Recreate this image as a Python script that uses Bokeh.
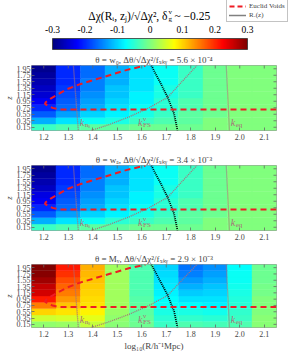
import numpy as np
from bokeh.plotting import figure
from bokeh.layouts import column, row
from bokeh.models import (Range1d, FixedTicker, Label, Legend, LegendItem,
                          LinearColorMapper, ColumnDataSource)
from bokeh.transform import linear_cmap
from bokeh.core.properties import value
from bokeh.embed import file_html
from bokeh.resources import INLINE

# ---------------- data ----------------
R_centers = [1.2, 1.3, 1.4, 1.5, 1.6, 1.7, 1.8, 1.9, 2.0, 2.1]
z_centers = [0.15, 0.35, 0.55, 0.75, 0.95, 1.15, 1.35, 1.55, 1.75, 1.95]
x_tick_labels = ["1.2", "1.3", "1.4", "1.5", "1.6", "1.7", "1.8", "1.9", "2.0", "2.1"]
y_tick_labels = ["0.15", "0.35", "0.55", "0.75", "0.95", "1.15", "1.35", "1.55", "1.75", "1.95"]
cbar_ticks = [-0.3, -0.2, -0.1, 0.0, 0.1, 0.2, 0.3]
cbar_tick_labels = ["-0.3", "-0.2", "-0.1", "0", "0.1", "0.2", "0.3"]

# rows: z ascending (0.15 ... 1.95); columns: R_centers
values_w0 = [
    [-0.04, -0.03, -0.02, -0.02, -0.01, -0.01, -0.01, 0.00, 0.00, 0.00],
    [-0.12, -0.09, -0.07, -0.06, -0.04, -0.03, -0.02, 0.00, 0.00, 0.00],
    [-0.17, -0.13, -0.10, -0.08, -0.06, -0.04, -0.02, -0.01, 0.00, 0.00],
    [-0.20, -0.16, -0.12, -0.09, -0.07, -0.05, -0.03, -0.01, 0.00, 0.00],
    [-0.23, -0.17, -0.13, -0.10, -0.08, -0.05, -0.03, -0.01, 0.00, 0.00],
    [-0.25, -0.18, -0.14, -0.11, -0.08, -0.06, -0.04, -0.01, 0.00, 0.00],
    [-0.26, -0.19, -0.15, -0.11, -0.09, -0.06, -0.04, -0.01, 0.00, 0.00],
    [-0.27, -0.20, -0.15, -0.12, -0.09, -0.07, -0.04, -0.01, 0.00, 0.00],
    [-0.28, -0.20, -0.16, -0.12, -0.09, -0.07, -0.04, -0.01, 0.00, 0.00],
    [-0.29, -0.20, -0.16, -0.12, -0.09, -0.07, -0.04, -0.01, 0.00, 0.00],
]
values_wa = [
    [-0.04, -0.03, -0.02, -0.02, -0.01, -0.01, -0.01, 0.00, 0.00, 0.00],
    [-0.12, -0.09, -0.07, -0.05, -0.04, -0.03, -0.02, 0.00, 0.00, 0.00],
    [-0.17, -0.13, -0.10, -0.08, -0.06, -0.04, -0.02, -0.01, 0.00, 0.00],
    [-0.20, -0.16, -0.12, -0.09, -0.07, -0.05, -0.03, -0.01, 0.00, 0.00],
    [-0.23, -0.17, -0.13, -0.10, -0.08, -0.05, -0.03, -0.01, 0.00, 0.00],
    [-0.24, -0.18, -0.14, -0.11, -0.08, -0.06, -0.04, -0.01, 0.00, 0.00],
    [-0.26, -0.19, -0.15, -0.11, -0.09, -0.06, -0.04, -0.01, 0.00, 0.00],
    [-0.27, -0.20, -0.15, -0.12, -0.09, -0.07, -0.04, -0.01, 0.00, 0.00],
    [-0.28, -0.20, -0.16, -0.12, -0.09, -0.07, -0.04, -0.01, 0.00, 0.00],
    [-0.29, -0.20, -0.16, -0.12, -0.09, -0.07, -0.04, -0.01, 0.00, 0.00],
]
values_mnu = [
    [0.010, 0.015, 0.040, 0.005, -0.010, -0.040, -0.030, -0.035, -0.030, 0.005],
    [0.045, 0.050, 0.060, 0.010, -0.015, -0.050, -0.045, -0.050, -0.040, 0.005],
    [0.100, 0.090, 0.080, 0.015, -0.020, -0.060, -0.060, -0.065, -0.045, 0.000],
    [0.150, 0.110, 0.090, 0.020, -0.020, -0.070, -0.075, -0.080, -0.050, 0.000],
    [0.210, 0.135, 0.095, 0.020, -0.025, -0.075, -0.090, -0.090, -0.055, 0.000],
    [0.250, 0.150, 0.100, 0.020, -0.030, -0.080, -0.105, -0.100, -0.060, -0.005],
    [0.260, 0.165, 0.105, 0.020, -0.030, -0.085, -0.120, -0.110, -0.065, -0.005],
    [0.280, 0.180, 0.110, 0.020, -0.030, -0.090, -0.135, -0.120, -0.070, -0.010],
    [0.295, 0.195, 0.115, 0.020, -0.030, -0.095, -0.150, -0.130, -0.070, -0.010],
    [0.300, 0.210, 0.120, 0.020, -0.030, -0.100, -0.157, -0.140, -0.075, -0.010],
]
panel_titles = ["θ = w₀, Δθ/√Δχ²/fₛₖᵧ = 5.6 × 10⁻⁴",
                "θ = wₐ, Δθ/√Δχ²/fₛₖᵧ = 3.4 × 10⁻³",
                "θ = Mᵥ, Δθ/√Δχ²/fₛₖᵧ = 2.9 × 10⁻³"]

# overlay curves (R = log10 radius, z = redshift)
euclid_R = [2.15, 1.261, 1.236, 1.216, 1.205, 1.208, 1.23, 1.255, 1.295, 1.348, 1.414, 1.48, 1.547, 1.606, 1.615]
euclid_z = [0.70, 0.70, 0.747, 0.817, 0.87, 0.92, 1.04, 1.15, 1.32, 1.475, 1.626, 1.777, 1.93, 2.03, 2.05]
rnu_R = [1.639, 1.672, 1.706, 1.732, 1.746]
rnu_z = [2.05, 1.575, 1.07, 0.565, 0.05]
kns_R = [1.321, 1.341]
kns_z = [2.05, 0.05]
kfs_R = [1.394, 1.47, 1.547, 1.63, 1.706, 1.765, 1.825]
kfs_z = [0.05, 0.24, 0.465, 0.75, 1.07, 1.56, 2.05]
keq_R = [1.945, 1.958]
keq_z = [2.05, 0.05]

# ---------------- style ----------------
W = 299
BL, BR = 25, 23          # left / right borders of the panel figures
SERIF = "Liberation Serif"
KCOL = "#a8707a"
RED = "#ee1c24"
TICK = "#666666"
NAN = float("nan")


def jet_hex(t):
    r = min(max(1.5 - abs(4 * t - 3), 0), 1)
    g = min(max(1.5 - abs(4 * t - 2), 0), 1)
    b = min(max(1.5 - abs(4 * t - 1), 0), 1)
    return "#%02x%02x%02x" % (int(r * 255), int(g * 255), int(b * 255))


JET = [jet_hex(i / 255) for i in range(256)]
mapper = LinearColorMapper(palette=JET, low=cbar_ticks[0], high=cbar_ticks[-1])

# ---------------- header: colour bar, title, legend (frame = whole canvas) ----------------
HDR_H = 51
PX = 325.0                            # pixels per colour-bar unit
BAR_X0, BAR_TOP, BAR_H = 52, 38, 11   # bar left, bar top, bar height (px)
hx0 = cbar_ticks[0] - BAR_X0 / PX
hdr_x = Range1d(hx0, hx0 + W / PX)
hdr_y = Range1d(-(HDR_H - BAR_TOP - BAR_H) / BAR_H, 1 + BAR_TOP / BAR_H)
hdr = figure(width=W, height=HDR_H, x_range=hdr_x, y_range=hdr_y, output_backend="svg",
             toolbar_location=None, x_axis_type=None, y_axis_type=None,
             min_border_left=0, min_border_right=0, min_border_top=0, min_border_bottom=0)
hdr.grid.visible = False
hdr.outline_line_color = None
grad = np.linspace(cbar_ticks[0], cbar_ticks[-1], 256).reshape(1, 256)
hdr.image(image=[grad], x=cbar_ticks[0], y=0, dw=cbar_ticks[-1] - cbar_ticks[0], dh=1, color_mapper=mapper)
hdr.quad(left=cbar_ticks[0], right=cbar_ticks[-1], bottom=0, top=1, fill_color=None,
         line_color="#333333", line_width=0.8)
hdr.text(x=cbar_ticks, y=[1 + 9 / BAR_H] * len(cbar_ticks), text=cbar_tick_labels, text_font=value(SERIF),
         text_font_size="9.5px", text_align="center", text_baseline="middle", text_color="black")

TX = cbar_ticks[0] + 115 / PX
TY = 1 + 23 / BAR_H
for txt, dx, dy, size, align in [("Δχ(Rᵢ, zⱼ)/√Δχ², δ", 0, 0, "11.5px", "right"),
                                  ("v", 1, 4, "7px", "left"),
                                  ("g", 1, -3, "7px", "left"),
                                  ("~ −0.25", 7, 0, "11.5px", "left")]:
    hdr.text(x=[TX + dx / PX], y=[TY + dy / BAR_H], text=[txt], text_font=value(SERIF), text_font_size=size,
             text_align=align, text_baseline="middle", text_color="black")

# legend-only renderers (no visible data of their own)
leg_r1 = hdr.line([NAN, NAN], [NAN, NAN], line_color=RED, line_width=2, line_dash="5 3")
leg_r2 = hdr.line([NAN, NAN], [NAN, NAN], line_color="black", line_width=1.6, line_dash="1 1")
legend = Legend(items=[LegendItem(label="Euclid Voids", renderers=[leg_r1]),
                       LegendItem(label="Rᵥ(z)", renderers=[leg_r2])],
                location=(226, 29), label_text_font=SERIF, label_text_font_size="7px",
                glyph_width=17, glyph_height=8, label_height=8, padding=2, spacing=1,
                label_standoff=3, margin=0, border_line_color="#888888", border_line_width=0.8,
                background_fill_color="white", background_fill_alpha=1)
hdr.add_layout(legend)


# ---------------- panels ----------------
def make_panel(vals, title, height, top, bottom, last=False):
    p = figure(width=W, height=height, x_range=Range1d(1.15, 2.15), y_range=Range1d(0.05, 2.05),
               output_backend="svg", toolbar_location=None, title=title,
               min_border_left=BL, min_border_right=BR, min_border_top=top, min_border_bottom=bottom)
    p.grid.visible = False
    p.outline_line_color = "#9a9a9a"
    p.outline_line_width = 1
    p.title.text_font = SERIF
    p.title.text_font_size = "9px"
    p.title.text_font_style = "normal"
    p.title.align = "center"
    p.title.standoff = 2

    Rs, zs, vs = [], [], []
    for zi, row_vals in zip(z_centers, vals):
        for Ri, v in zip(R_centers, row_vals):
            Rs.append(Ri)
            zs.append(zi)
            vs.append(v)
    src = ColumnDataSource(dict(R=Rs, z=zs, v=vs))
    cm = linear_cmap("v", JET, cbar_ticks[0], cbar_ticks[-1])
    p.rect(x="R", y="z", width=0.1, height=0.2, source=src, fill_color=cm, line_color=cm, line_width=0.4)

    p.line(kns_R, kns_z, line_color=KCOL, line_width=1.3, line_dash="1 1")
    p.line(kfs_R, kfs_z, line_color=KCOL, line_width=1.3, line_dash="1 1")
    p.line(keq_R, keq_z, line_color=KCOL, line_width=1.3, line_dash="1 1")
    p.line(rnu_R, rnu_z, line_color="black", line_width=1.8, line_dash="1 1")
    p.line(euclid_R, euclid_z, line_color=RED, line_width=2, line_dash="6 4")

    # k labels
    for txt, x, y, xo, yo, size in [("k", 1.347, 0.31, 0, 0, "10px"), ("nₛ", 1.347, 0.31, 5, -3, "7px"),
                                     ("k", 1.585, 0.31, 0, 0, "10px"), ("ν", 1.585, 0.31, 5, 3, "7px"),
                                     ("FS", 1.585, 0.31, 5, -3, "7px"),
                                     ("k", 1.963, 0.31, 0, 0, "10px"), ("eq", 1.963, 0.31, 5, -3, "7px")]:
        p.add_layout(Label(x=x, y=y, x_offset=xo, y_offset=yo, text=txt, text_font=SERIF,
                           text_font_style="italic" if txt == "k" else "normal",
                           text_font_size=size, text_color=KCOL, text_align="left", text_baseline="middle"))

    # inward ticks on top and right edges (half of each dash is clipped by the frame)
    p.scatter(x=R_centers, y=[p.y_range.end] * len(R_centers), marker="dash", angle=np.pi / 2, size=6,
              line_color=TICK, line_width=0.8)
    p.scatter(x=[p.x_range.end] * len(z_centers), y=z_centers, marker="dash", size=6,
              line_color=TICK, line_width=0.8)

    xa, ya = p.xaxis[0], p.yaxis[0]
    xa.ticker = FixedTicker(ticks=R_centers)
    xa.major_label_overrides = {t: s for t, s in zip(R_centers, x_tick_labels)}
    ya.ticker = FixedTicker(ticks=z_centers)
    ya.major_label_overrides = {t: s for t, s in zip(z_centers, y_tick_labels)}
    for a in (xa, ya):
        a.axis_line_color = None
        a.major_tick_in = 3
        a.major_tick_out = 0
        a.major_tick_line_color = TICK
        a.major_tick_line_width = 0.8
        a.minor_tick_line_color = None
        a.major_label_text_font = SERIF
        a.major_label_text_font_size = "8px"
        a.axis_label_text_font = SERIF
        a.axis_label_text_font_style = "normal"
        a.axis_label_standoff = 1
    xa.major_label_standoff = 3
    ya.major_label_standoff = 1
    ya.axis_label = "z"
    ya.axis_label_standoff = 0
    ya.axis_label_text_font_style = "italic"
    ya.axis_label_text_font_size = "8.5px"
    if last:
        xa.axis_label = "log₁₀(R/h⁻¹Mpc)"
        xa.axis_label_text_font_size = "9px"
    return p


p1 = make_panel(values_w0, panel_titles[0], 100, 13, 21)
p2 = make_panel(values_wa, panel_titles[1], 99, 13, 20)
p3 = make_panel(values_mnu, panel_titles[2], 103, 13, 24, last=True)

layout = column(row(hdr, spacing=0), p1, p2, p3, spacing=0)
open("out.html", "w").write(file_html(layout, INLINE))
